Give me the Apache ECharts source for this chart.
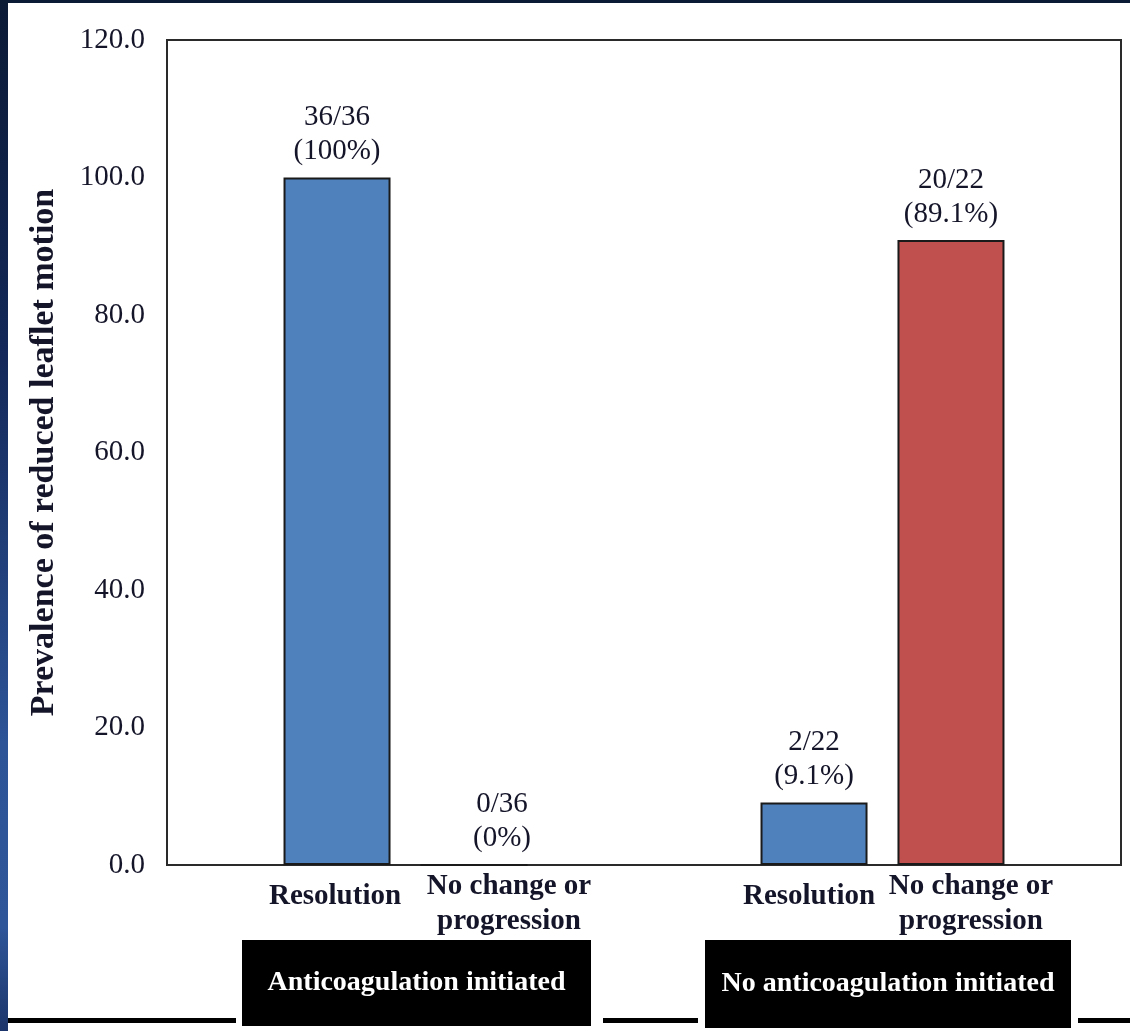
<!DOCTYPE html>
<html>
<head>
<meta charset="utf-8">
<script src="https://cdn.jsdelivr.net/npm/echarts@6/dist/echarts.min.js"></script>
<style>html,body{margin:0;padding:0;background:#fff}#chart{width:1130px;height:1031px}</style>
</head>
<body>
<div id="chart"></div>
<script>
// ---- data ----
const categories = ['Anticoagulation initiated', 'No anticoagulation initiated'];
const subCategories = ['Resolution', 'No change or\nprogression'];
const resolutionValues = [100, 9.1];
const noChangeValues = [0, 90.9];
const resolutionLabels = ['36/36\n(100%)', '2/22\n(9.1%)'];
const noChangeLabels = ['0/36\n(0%)', '20/22\n(89.1%)'];
const yTickLabels = ['0.0', '20.0', '40.0', '60.0', '80.0', '100.0', '120.0'];
const yTitle = 'Prevalence of reduced leaflet motion';

// ---- styling ----
const FONT = '"Liberation Serif", "Times New Roman", serif';
const TXT = '#15152a';
const BLUE = '#4f81bd';
const RED = '#c0504d';
const valueNudge = [[[0,0],[0,0]], [[28,0],[0,0]]];         // [series][category]
const subNudge = [[[-2,10],[-5,10]], [[35,0],[20,0]]];

const chart = echarts.init(document.getElementById('chart'), null, {renderer: 'canvas'});

function valueSeries(name, values, labels, color, si) {
  return {
    type: 'bar', name: name, xAxisIndex: 0, yAxisIndex: 0,
    barWidth: 107, barGap: '28%',
    itemStyle: {color: color, borderColor: '#1a1a1a', borderWidth: 2},
    label: {show: true, position: 'top', distance: 9, fontFamily: FONT, fontSize: 29,
            lineHeight: 34, color: TXT},
    data: values.map((v, i) => ({value: v, label: {formatter: labels[i], offset: valueNudge[si][i]}})),
    z: 3
  };
}
function subSeries(values, si) {
  return {
    type: 'bar', xAxisIndex: 1, yAxisIndex: 0, silent: true,
    barWidth: 107, barGap: '28%',
    itemStyle: {color: 'rgba(0,0,0,0)', borderWidth: 0},
    label: {show: true, position: 'bottom', distance: 4, fontFamily: FONT, fontSize: 29,
            fontWeight: 'bold', lineHeight: 35, color: TXT},
    data: values.map((v, i) => ({value: v, label: {formatter: subCategories[si], offset: subNudge[si][i]}})),
    z: 1
  };
}

const option = {
  backgroundColor: '#ffffff',
  animation: false,
  grid: {left: 167, right: 9, top: 40, bottom: 166, show: true, borderColor: '#2a2a2a', borderWidth: 2,
         backgroundColor: 'rgba(0,0,0,0)'},
  xAxis: [
    {
      type: 'category', data: categories, gridIndex: 0,
      axisLine: {show: false}, axisTick: {show: false},
      axisLabel: {
        interval: 0, margin: 75,
        formatter: function (v, i) {
          return i === 0 ? '{s1| }{a|' + v + '}' : '{s2| }{b|' + v + '}';
        },
        rich: {
          s1: {width: 22},
          s2: {width: 11},
          a: {width: 349, height: 86, lineHeight: 86, align: 'center', backgroundColor: '#000',
              color: '#fff', fontFamily: FONT, fontWeight: 'bold', fontSize: 28},
          b: {width: 366, height: 88, lineHeight: 88, align: 'center', backgroundColor: '#000',
              color: '#fff', fontFamily: FONT, fontWeight: 'bold', fontSize: 28}
        }
      }
    },
    {type: 'category', data: categories, gridIndex: 0, show: false}
  ],
  yAxis: {
    type: 'value', min: 0, max: 120, interval: 20,
    axisLine: {show: false}, axisTick: {show: false}, splitLine: {show: false},
    axisLabel: {margin: 22, fontFamily: FONT, fontSize: 29, color: TXT,
                formatter: function (v) { return yTickLabels[Math.round(v / 20)]; }},
    name: yTitle, nameLocation: 'middle', nameGap: 106,
    nameTextStyle: {fontFamily: FONT, fontSize: 34, fontWeight: 'bold', color: TXT}
  },
  series: [
    valueSeries('Resolution', resolutionValues, resolutionLabels, BLUE, 0),
    valueSeries('No change or progression', noChangeValues, noChangeLabels, RED, 1),
    subSeries(resolutionValues, 0),
    subSeries(noChangeValues, 1)
  ],
  graphic: [
    {type: 'rect', shape: {x: 0, y: 0, width: 8, height: 1031}, silent: true,
     style: {fill: new echarts.graphic.LinearGradient(0, 0, 0, 1, [
       {offset: 0, color: '#0b1a35'}, {offset: 0.35, color: '#14295a'},
       {offset: 0.72, color: '#2d5497'}, {offset: 0.9, color: '#2f5699'}, {offset: 1, color: '#1c356a'}])}},
    {type: 'rect', shape: {x: 0, y: 0, width: 1130, height: 3}, silent: true, style: {fill: '#0b1a35'}},
    {type: 'rect', shape: {x: 8, y: 1018, width: 228, height: 5}, silent: true, style: {fill: '#000'}},
    {type: 'rect', shape: {x: 603, y: 1018, width: 95, height: 5}, silent: true, style: {fill: '#000'}},
    {type: 'rect', shape: {x: 1078, y: 1018, width: 52, height: 5}, silent: true, style: {fill: '#000'}}
  ]
};
chart.setOption(option);
</script>
</body>
</html>
